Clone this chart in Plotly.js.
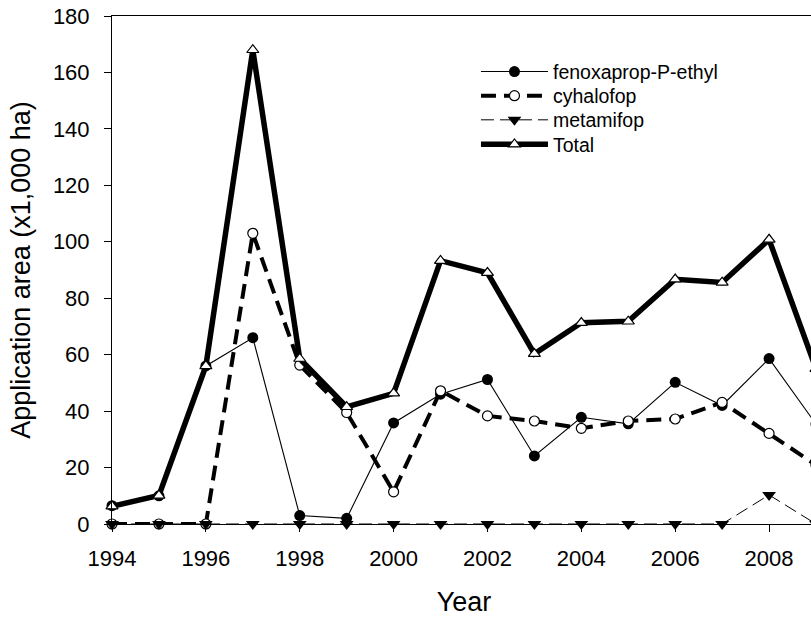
<!DOCTYPE html>
<html>
<head>
<meta charset="utf-8">
<script src="https://cdn.plot.ly/plotly-3.0.1.min.js"></script>
<style>
  html, body { margin: 0; padding: 0; overflow: hidden; background: #fff; }
  #chart { width: 830px; height: 617px; }
</style>
</head>
<body>
<div id="chart"></div>
<script>
// Herbicide application area by year (x1,000 ha)
const years = [1994, 1995, 1996, 1997, 1998, 1999, 2000, 2001, 2002, 2003, 2004, 2005, 2006, 2007, 2008, 2009];
const fenoxapropPEthyl = [6.5, 10, 56, 66, 3, 2, 35.8, 46, 51.2, 24.1, 37.8, 35.5, 50.2, 42, 58.6, 35.4];
const cyhalofop = [0, 0, 0, 103, 56.3, 39.5, 11.4, 47.2, 38.3, 36.5, 33.9, 36.5, 37.2, 43.1, 32.1, 20.9];
const metamifop = [0, 0, 0, 0, 0, 0, 0, 0, 0, 0, 0, 0, 0, 0, 10.3, 0];
const total = [6.3, 10.1, 56, 168, 58.6, 41.5, 46.3, 93.3, 89, 60.3, 71.3, 71.8, 86.7, 85.6, 100.8, 55];

const seriesNames = ['fenoxaprop-P-ethyl', 'cyhalofop', 'metamifop', 'Total'];
const yTicks = [0, 20, 40, 60, 80, 100, 120, 140, 160, 180];
const xTicks = [1994, 1996, 1998, 2000, 2002, 2004, 2006, 2008];

const FONT = 'Liberation Sans, Arial, Helvetica, sans-serif';

const traces = [
  {
    x: years, y: fenoxapropPEthyl, name: seriesNames[0], legend: 'legend',
    type: 'scatter', mode: 'lines+markers', cliponaxis: false,
    line: { color: '#000', width: 1.1 },
    marker: { symbol: 'circle', size: 11, color: '#000', line: { width: 0 } }
  },
  {
    x: years, y: cyhalofop, name: seriesNames[1], legend: 'legend2',
    type: 'scatter', mode: 'lines+markers', cliponaxis: false,
    line: { color: '#000', width: 4, dash: '15px,8px' },
    marker: { symbol: 'circle', size: 10, color: '#fff', line: { color: '#000', width: 1.2 } }
  },
  {
    x: years, y: metamifop, name: seriesNames[2], legend: 'legend3',
    type: 'scatter', mode: 'lines+markers', cliponaxis: false,
    line: { color: '#000', width: 1, dash: '13px,6px' },
    marker: { symbol: 'triangle-down', size: 12, color: '#000', line: { width: 0 } }
  },
  {
    x: years, y: total, name: seriesNames[3], legend: 'legend4',
    type: 'scatter', mode: 'lines+markers', cliponaxis: false,
    line: { color: '#000', width: 5.5 },
    marker: { symbol: 'triangle-up', size: 10.5, color: '#fff', line: { color: '#000', width: 1.2 } }
  }
];

// one single-entry legend per series, stacked in the upper right of the plot
function legendAt(yPos) {
  return {
    x: 0.517, xanchor: 'left', y: yPos, yanchor: 'middle',
    bgcolor: 'rgba(0,0,0,0)', borderwidth: 0, itemwidth: 67,
    font: { family: FONT, size: 19.5, color: '#000' }
  };
}

const layout = {
  width: 830, height: 617,
  margin: { l: 112, r: 14, t: 16, b: 93 },
  paper_bgcolor: '#fff', plot_bgcolor: '#fff',
  font: { family: FONT, color: '#000' },
  showlegend: true,
  legend: legendAt(0.890),
  legend2: legendAt(0.8425),
  legend3: legendAt(0.795),
  legend4: legendAt(0.747),
  xaxis: {
    range: [1994, 2009], tickvals: xTicks, ticktext: xTicks.map(String),
    ticks: 'outside', ticklen: 7, tickwidth: 1, tickcolor: '#000', ticklabelstandoff: 8,
    showline: true, linecolor: '#000', linewidth: 1, mirror: true,
    showgrid: false, zeroline: false,
    tickfont: { family: FONT, size: 22, color: '#000' },
    title: { text: 'Year', font: { family: FONT, size: 27, color: '#000' }, standoff: 24 }
  },
  yaxis: {
    range: [0, 180], tickvals: yTicks, ticktext: yTicks.map(String),
    ticks: 'outside', ticklen: 7, tickwidth: 1, tickcolor: '#000', ticklabelstandoff: 10,
    showline: true, linecolor: '#000', linewidth: 1, mirror: false,
    showgrid: false, zeroline: false,
    tickfont: { family: FONT, size: 22, color: '#000' },
    title: { text: 'Application area (x1,000 ha)', font: { family: FONT, size: 27, color: '#000' }, standoff: 14 }
  }
};

Plotly.newPlot('chart', traces, layout, { displayModeBar: false, staticPlot: true });
</script>
</body>
</html>
